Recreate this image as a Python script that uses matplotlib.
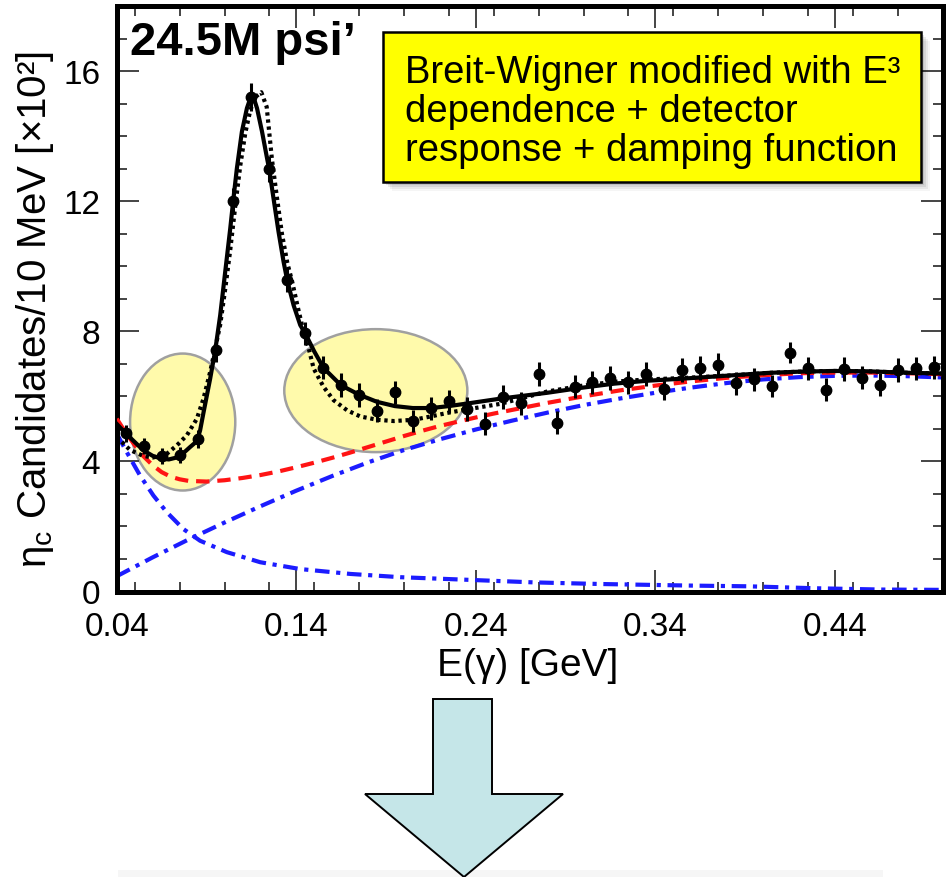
import matplotlib
matplotlib.use("Agg")
import matplotlib.pyplot as plt
from matplotlib.patches import Ellipse, Rectangle, Polygon
from matplotlib.ticker import MultipleLocator

plt.rcParams['font.family'] = ['Liberation Sans', 'DejaVu Sans']
plt.rcParams['mathtext.fontset'] = 'custom'
plt.rcParams['mathtext.rm'] = 'Liberation Sans'
plt.rcParams['mathtext.it'] = 'Liberation Sans'

# measured spectrum: photon energy bins (GeV) and candidates per 10 MeV (x100)
e_gamma = [0.045, 0.055, 0.065, 0.075, 0.085, 0.095, 0.105, 0.115, 0.125, 0.135,
           0.145, 0.155, 0.165, 0.175, 0.185, 0.195, 0.205, 0.215, 0.225, 0.235,
           0.245, 0.255, 0.265, 0.275, 0.285, 0.295, 0.305, 0.315, 0.325, 0.335,
           0.345, 0.355, 0.365, 0.375, 0.385, 0.395, 0.405, 0.415, 0.425, 0.435,
           0.445, 0.455, 0.465, 0.475, 0.485, 0.495]
counts = [4.86, 4.47, 4.17, 4.19, 4.70, 7.42, 12.01, 15.20, 13.00, 9.58,
          7.94, 6.88, 6.35, 6.04, 5.56, 6.12, 5.24, 5.63, 5.85, 5.61,
          5.16, 5.99, 5.78, 6.68, 5.19, 6.30, 6.43, 6.57, 6.43, 6.69,
          6.24, 6.81, 6.88, 6.96, 6.40, 6.52, 6.32, 7.34, 6.86, 6.21,
          6.84, 6.57, 6.36, 6.81, 6.86, 6.89]
errors = [0.25, 0.25, 0.25, 0.25, 0.28, 0.35, 0.40, 0.42, 0.40, 0.38,
          0.36, 0.36, 0.36, 0.36, 0.35, 0.36, 0.33, 0.35, 0.36, 0.36,
          0.35, 0.37, 0.36, 0.37, 0.35, 0.36, 0.36, 0.37, 0.36, 0.37,
          0.35, 0.36, 0.37, 0.37, 0.35, 0.36, 0.35, 0.33, 0.36, 0.34,
          0.36, 0.35, 0.35, 0.36, 0.36, 0.36]

# total fit (E^3 modified Breit-Wigner + detector response + damping)
fit_x = [0.040, 0.0446, 0.0548, 0.0600, 0.0651, 0.0690, 0.0734, 0.0780, 0.0808,
         0.0846, 0.0864, 0.0883, 0.0920, 0.0948, 0.0976, 0.1004, 0.1032, 0.1048,
         0.1069, 0.1097, 0.1125, 0.1140, 0.1153, 0.1166, 0.1181, 0.1209, 0.1237,
         0.1249, 0.1273, 0.1301, 0.1329, 0.1350, 0.1385, 0.1422, 0.1450, 0.1500,
         0.1552, 0.1649, 0.1750, 0.1850, 0.1949, 0.2049, 0.2152, 0.2250, 0.2353,
         0.2538, 0.2799, 0.2985, 0.3171, 0.3357, 0.3543, 0.3840, 0.4027, 0.4213,
         0.4398, 0.4585, 0.4771, 0.5000]
fit_y = [5.15, 4.88, 4.34, 4.17, 4.08, 4.06, 4.12, 4.30, 4.44,
         4.62, 4.95, 5.50, 6.54, 7.40, 8.49, 9.83, 11.16, 11.99,
         13.01, 14.14, 14.86, 15.10, 15.19, 15.12, 14.86, 14.14, 13.32,
         12.98, 12.09, 11.06, 10.14, 9.55, 8.80, 8.19, 7.93, 7.38,
         6.87, 6.34, 6.05, 5.83, 5.70, 5.64, 5.64, 5.70, 5.78,
         5.93, 6.11, 6.26, 6.39, 6.48, 6.54, 6.65, 6.72, 6.76,
         6.78, 6.77, 6.73, 6.70]

# alternative signal shape (dotted)
alt_x = [0.040, 0.0474, 0.0546, 0.0602, 0.0678, 0.0734, 0.0790, 0.0846, 0.0883,
         0.0920, 0.0948, 0.0976, 0.1004, 0.1032, 0.1060, 0.1088, 0.1116, 0.1144,
         0.1172, 0.1205, 0.1235, 0.1264, 0.1290, 0.1320, 0.1350, 0.1376, 0.1410,
         0.1440, 0.1470, 0.1497, 0.1552, 0.1608, 0.1683, 0.1757, 0.1850, 0.1943,
         0.2055, 0.2148, 0.2241, 0.2353, 0.2538, 0.2799, 0.2985, 0.3171, 0.3357,
         0.3543, 0.3840, 0.4027, 0.4213, 0.4398, 0.4585, 0.4771, 0.5000]
alt_y = [4.75, 4.35, 4.17, 4.12, 4.23, 4.49, 4.80, 5.31, 5.93,
         6.75, 7.47, 8.20, 9.30, 10.50, 11.85, 13.10, 14.10, 14.80,
         15.20, 15.35, 14.90, 13.30, 12.20, 11.00, 10.10, 9.55, 8.70,
         8.00, 7.45, 6.85, 6.29, 5.88, 5.57, 5.38, 5.28, 5.24,
         5.28, 5.38, 5.49, 5.60, 5.77, 6.15, 6.32, 6.45, 6.52,
         6.56, 6.65, 6.72, 6.76, 6.78, 6.77, 6.73, 6.70]

# total background (red dashed)
bkg_x = [0.040, 0.045, 0.050, 0.055, 0.060, 0.065, 0.070, 0.075, 0.080, 0.090,
         0.100, 0.110, 0.120, 0.130, 0.140, 0.150, 0.160, 0.170, 0.180, 0.190,
         0.200, 0.210, 0.220, 0.230, 0.240, 0.250, 0.260, 0.270, 0.280, 0.290,
         0.300, 0.320, 0.340, 0.360, 0.380, 0.400, 0.420, 0.440, 0.460, 0.480, 0.500]
bkg_y = [5.31, 4.88, 4.50, 4.15, 3.88, 3.67, 3.53, 3.45, 3.40, 3.38,
         3.42, 3.49, 3.58, 3.69, 3.82, 3.96, 4.11, 4.27, 4.44, 4.61,
         4.78, 4.94, 5.09, 5.22, 5.35, 5.47, 5.58, 5.69, 5.80, 5.90,
         6.00, 6.18, 6.33, 6.46, 6.57, 6.65, 6.71, 6.73, 6.73, 6.71, 6.68]

# rising background component (blue dash-dot)
rise_x = [0.04, 0.06, 0.08, 0.10, 0.12, 0.14, 0.16, 0.18, 0.20, 0.22, 0.24, 0.26,
          0.28, 0.30, 0.32, 0.34, 0.36, 0.38, 0.40, 0.42, 0.44, 0.46, 0.48, 0.50]
rise_y = [0.47, 1.05, 1.60, 2.12, 2.62, 3.10, 3.55, 3.97, 4.35, 4.68, 4.98, 5.25,
          5.50, 5.73, 5.93, 6.11, 6.27, 6.41, 6.52, 6.59, 6.63, 6.64, 6.62, 6.58]

# falling background component (blue dash-dot)
fall_x = [0.040, 0.0455, 0.0529, 0.0604, 0.0678, 0.0771, 0.0864, 0.1013, 0.1199,
          0.1422, 0.1701, 0.1979, 0.2353, 0.2724, 0.3097, 0.3617, 0.3915, 0.4287,
          0.4659, 0.5000]
fall_y = [4.85, 4.29, 3.57, 2.95, 2.44, 1.92, 1.56, 1.21, 0.90,
          0.69, 0.54, 0.44, 0.36, 0.28, 0.23, 0.18, 0.16, 0.10,
          0.06, 0.05]

x_ticks = [0.04, 0.14, 0.24, 0.34, 0.44]
y_ticks = [0, 4, 8, 12, 16]

W, H = 951, 878
fig = plt.figure(figsize=(W / 100, H / 100), dpi=100)
ax = fig.add_axes([116.8 / W, 1 - 592.5 / H, (942.5 - 116.8) / W, (592.5 - 7) / H])

# highlighted regions
for cx, cy, w, h in [(0.0767, 5.21, 0.0586, 4.21), (0.1843, 6.175, 0.102, 3.78)]:
    ax.add_patch(Ellipse((cx, cy), w, h, facecolor='#fffaab', edgecolor='#a0a0a0',
                         lw=1.8, zorder=1))

blue = '#1c1cff'
ax.plot(fall_x, fall_y, color=blue, lw=3, ls=(0, (3.5, 1.6, 1.0, 1.6)), zorder=2)
ax.plot(rise_x, rise_y, color=blue, lw=3, ls=(0, (3.5, 1.6, 1.0, 1.6)), zorder=2)
ax.plot(bkg_x, bkg_y, color='#ff1414', lw=3, ls=(0, (3.2, 1.9)), zorder=3)
ax.plot(alt_x, alt_y, color='black', lw=3, ls=(0, (0.8, 0.9)), zorder=4)
ax.plot(fit_x, fit_y, color='black', lw=3, zorder=5)
ax.errorbar(e_gamma, counts, yerr=errors, fmt='o', color='black', ms=7.5,
            elinewidth=2.2, capsize=0, zorder=6)

ax.set_xlim(0.04, 0.50)
ax.set_ylim(0, 18)
ax.set_xticks(x_ticks)
ax.set_xticklabels(['%.2f' % t for t in x_ticks])
ax.set_yticks(y_ticks)
ax.xaxis.set_minor_locator(MultipleLocator(0.025))
ax.yaxis.set_minor_locator(MultipleLocator(1))
ax.tick_params(which='both', direction='in', top=True, right=True, color='#444444',
               width=1.4, labelsize=24)
ax.tick_params(which='major', length=16)
ax.tick_params(which='minor', length=7.5)
ax.tick_params(axis='x', which='major', pad=14)
ax.tick_params(axis='y', which='major', pad=12)
for sp in ax.spines.values():
    sp.set_linewidth(3.6)

fig.text(35 / W, 1 - 310 / H, r'$\mathregular{\eta_c}$ Candidates/10 MeV [×10²]',
         rotation=90, ha='center', va='center', fontsize=29)
fig.text(528 / W, 1 - 666 / H, 'E(γ) [GeV]', ha='center', va='center', fontsize=28)

fig.text(130 / W, 1 - 55 / H, '24.5M psi’', fontsize=34, fontweight='bold',
         ha='left', va='baseline')

# note box with soft shadow
bx0, by0, bx1, by1 = 383, 33, 921, 183
for k, a in enumerate([0.10, 0.08, 0.06, 0.04]):
    off = 3 + 2 * k
    fig.add_artist(Rectangle(((bx0 + off) / W, 1 - (by1 + off) / H),
                             (bx1 - bx0) / W, (by1 - by0) / H,
                             transform=fig.transFigure, facecolor='black',
                             edgecolor='none', alpha=a, zorder=8))
fig.add_artist(Rectangle((bx0 / W, 1 - by1 / H), (bx1 - bx0) / W, (by1 - by0) / H,
                         transform=fig.transFigure, facecolor='#ffff00',
                         edgecolor='black', lw=1.8, zorder=9))
note = ['Breit-Wigner modified with E³', 'dependence + detector',
        'response + damping function']
for i, line in enumerate(note):
    fig.text(405 / W, 1 - (83 + 39 * i) / H, line, fontsize=27.5,
             ha='left', va='baseline', zorder=10)

# downward arrow below the plot
fig.add_artist(Rectangle((118 / W, 0), (883 - 118) / W, 7 / H,
                         transform=fig.transFigure, facecolor='#f6f6f6',
                         edgecolor='none', zorder=1))
arrow_px = [(433, 700), (492, 700), (492, 795), (563, 795), (464, 878),
            (365, 795), (433, 795)]
fig.add_artist(Polygon([(x / W, 1 - y / H) for x, y in arrow_px], closed=True,
                       transform=fig.transFigure, facecolor='#c5e6e8',
                       edgecolor='black', lw=1.4, zorder=2))

fig.savefig('out.png', dpi=100)
